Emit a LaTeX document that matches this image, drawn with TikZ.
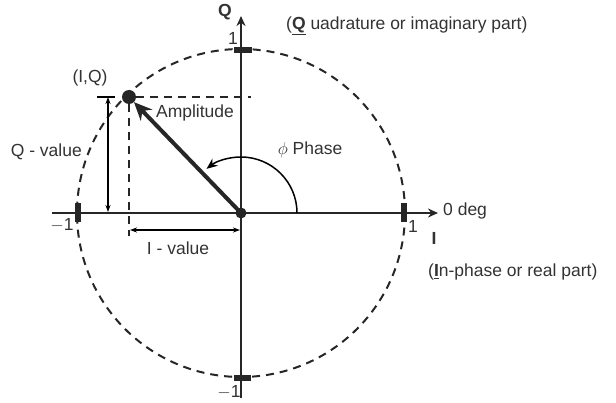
\documentclass[tikz,border=0pt]{standalone}
\usepackage{fontspec}
\setmainfont{Liberation Sans}
\usepackage{tikz}
\usetikzlibrary{arrows.meta,calc}

\begin{document}
\begin{tikzpicture}[
  x=1pt, y=1pt,
  font=\fontsize{17.5}{20}\selectfont,
  axis/.style={line width=2.6pt, draw=black!85, -{Stealth[length=10pt,width=9pt]}},
  tick/.style={line width=5.5pt, draw=black!85},
  dashln/.style={line width=2pt, dash pattern=on 8pt off 6pt, draw=black!85},
  dim/.style={line width=1.1pt, {Stealth[length=7pt,width=5pt]}-{Stealth[length=7pt,width=5pt]}},
  amp/.style={line width=4pt, draw=black!85, -{Stealth[length=18pt,width=16pt]}},
  lbl/.style={inner sep=1pt, text=black!80}
]
\useasboundingbox (0,0) rectangle (616,402);

\coordinate (O) at (241,189);
\coordinate (xl) at (52,189);
\coordinate (xr) at (438,189);
\coordinate (yb) at (241,4);
\coordinate (yt) at (241,386);
\coordinate (P) at (129,305);

% circle and axes
\draw[dashln] (O) circle (164);
\draw[axis] (xl) -- (xr);
\draw[axis] (yb) -- (yt);

% unit ticks
\draw[tick] (234,352) -- (252,352);
\draw[tick] (234,24) -- (251,24);
\draw[tick] (78,180) -- (78,199);
\draw[tick] (404,180) -- (404,199);

\node[lbl] (t1) at (233,364) {1};
\node[lbl] (tm1) at (229,10) {$-$1};
\node[lbl] (l1) at (62,177) {$-$1};
\node[lbl] (r1) at (413,176) {1};

% axis names
\node[lbl, font=\fontsize{17.5}{20}\selectfont\bfseries] (qname) at (225,390) {Q};
\node[lbl, font=\fontsize{17.5}{20}\selectfont\bfseries] (iname) at (434,164) {I};
\node[lbl, anchor=west] (deg) at (442,191) {0 deg};
\node[lbl, anchor=west] (qtxt) at (285,376) {(\underline{\textbf{Q}} uadrature or imaginary part)};
\node[lbl, anchor=west] (itxt) at (427,130) {(\underline{\textbf{I}}n-phase or real part)};

% the point and its projections
\node[circle, fill=black!85, inner sep=0pt, minimum size=14pt] (pt) at (P) {};
\draw[dashln] (pt) -- (251,305);
\draw[dashln] (pt) -- (129,166);
\draw[amp] (O) -- (pt.-46);
\fill[black!85] (O) circle (5.5);

% dimensions
\draw[line width=1.1pt] (97,305) -- (115,305);
\draw[dim] (108,305) -- (108,190);
\draw[dim] (130,172) -- (240,172);

% phase arc
\draw[line width=1.5pt, -{Stealth[length=11pt,width=9pt]}] ($(O)+(56,0)$) arc[start angle=0, end angle=128, radius=56];

% labels
\node[lbl] (iq) at (90,324) {(I,Q)};
\node[lbl] (ampl) at (195,289) {Amplitude};
\node[lbl, anchor=east] (qval) at (83,250) {Q - value};
\node[lbl] (ival) at (178,154) {I - value};
\node[lbl] (ph) at (310,252) {$\phi$ Phase};
\end{tikzpicture}
\end{document}
